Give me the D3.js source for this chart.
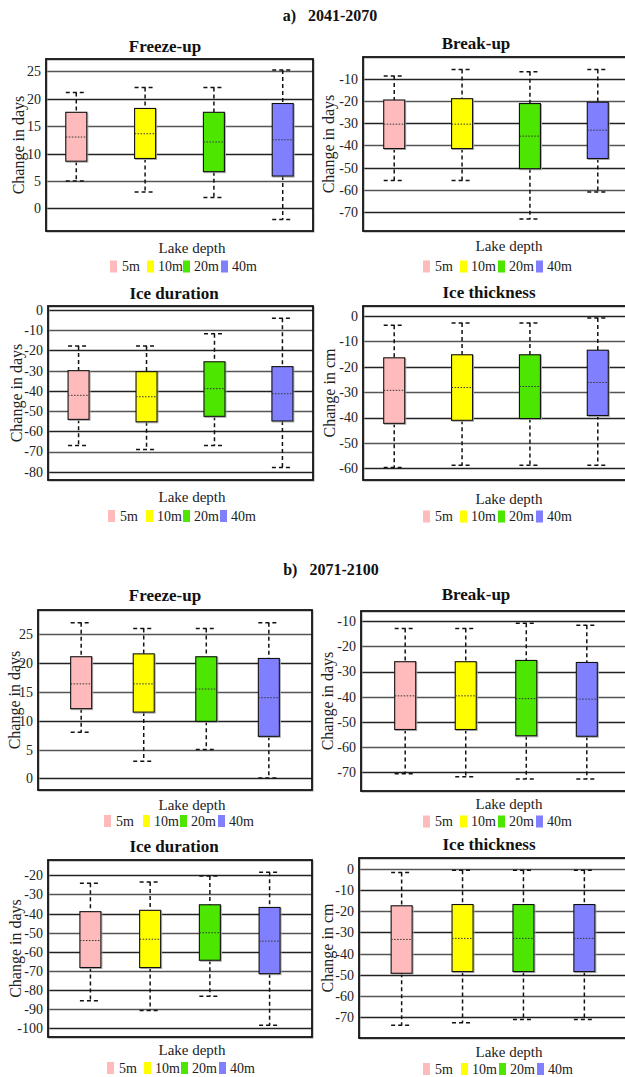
<!DOCTYPE html>
<html>
<head>
<meta charset="utf-8">
<script src="https://cdn.jsdelivr.net/npm/d3@7"></script>
<style>
  html, body { margin: 0; padding: 0; background: #fff; }
  svg { display: block; }
</style>
</head>
<body>
<svg id="chart" width="625" height="1077"></svg>
<script>
// ---------- DATA ----------
const depths = ["5m", "10m", "20m", "40m"];
const periods = ["a)\u00a0\u00a0\u00a02041-2070", "b)\u00a0\u00a0\u00a02071-2100"];
const variables = ["Freeze-up", "Break-up", "Ice duration", "Ice thickness"];
const yLabels = ["Change in days", "Change in days", "Change in days", "Change in cm"];
// each row: [lower whisker, Q1, median, Q3, upper whisker] for 5m,10m,20m,40m
const a_freezeUp = [[5, 8.6, 13, 17.5, 21.1], [3, 9.1, 13.6, 18.2, 22], [2, 6.7, 12.1, 17.5, 22], [-2, 5.9, 12.5, 19.1, 25.2]];
const a_breakUp = [[-55.8, -41.4, -30.4, -19.5, -8.7], [-55.8, -41.4, -30.4, -18.9, -5.7], [-73.2, -50.5, -35.8, -21.1, -6.7], [-61, -45.9, -33.1, -20.5, -5.7]];
const a_iceDuration = [[-67, -54.1, -42.2, -30, -17.8], [-69, -55.3, -42.9, -30.5, -17.8], [-67, -52.6, -38.9, -25.6, -11.7], [-77.9, -54.9, -41.4, -28, -4]];
const a_iceThickness = [[-59.7, -42.3, -29.3, -16.5, -3.7], [-58.8, -41.1, -28.2, -15.3, -2.8], [-58.8, -40.4, -27.8, -15.3, -2.8], [-58.8, -39.2, -26.2, -13.5, -0.8]];
const b_freezeUp = [[8, 12.1, 16.4, 21.1, 27], [3, 11.5, 16.4, 21.6, 26], [5, 9.9, 15.5, 21.1, 26], [0.1, 7.3, 14, 20.8, 27]];
const b_breakUp = [[-70.7, -53.1, -39.7, -26.1, -12.9], [-71.9, -53.1, -39.7, -26.1, -12.9], [-72.8, -55.6, -40.8, -25.6, -10.8], [-72.8, -55.8, -41, -26.4, -11.6]];
const b_iceDuration = [[-85.5, -68.2, -54.1, -39, -24.2], [-90.6, -68.2, -53.4, -38.3, -23.5], [-83.2, -64.4, -50, -35.4, -20.3], [-98.4, -71.4, -54.4, -36.8, -18.4]];
const b_iceThickness = [[-73.9, -49.3, -33.3, -17.4, -1.7], [-72.7, -48.5, -32.8, -16.8, -0.6], [-71.1, -48.5, -32.8, -16.8, -0.6], [-71.1, -48.5, -32.8, -16.8, -0.6]];
// y tick values for each panel
const ticksFreezeUpA = [0, 5, 10, 15, 20, 25];
const ticksBreakUpA = [-70, -60, -50, -40, -30, -20, -10];
const ticksDurationA = [-80, -70, -60, -50, -40, -30, -20, -10, 0];
const ticksThicknessA = [-60, -50, -40, -30, -20, -10, 0];
const ticksFreezeUpB = [0, 5, 10, 15, 20, 25];
const ticksBreakUpB = [-70, -60, -50, -40, -30, -20, -10];
const ticksDurationB = [-100, -90, -80, -70, -60, -50, -40, -30, -20];
const ticksThicknessB = [-70, -60, -50, -40, -30, -20, -10, 0];

// ---------- STYLE ----------
const fills = ["#ffbbbb", "#ffff00", "#4de600", "#8080ff"];
const FONT = "'Liberation Serif', monospace";

// ---------- LAYOUT ----------
const panels = [
  { v: 0, data: a_freezeUp, ticks: ticksFreezeUpA, dom: [-4.1, 27.2], x: [46, 313], y: [59, 231], pad: 0.44, tx: 165, ty: 46, ylx: 18, lx: 192, ly: 248, legY: 266.5, legX: [110, 147, 183, 221] },
  { v: 1, data: a_breakUp, ticks: ticksBreakUpA, dom: [-78.6, -0.1], x: [363, 629], y: [57, 231], pad: 0.46, tx: 476, ty: 43, ylx: 328, lx: 509, ly: 246, legY: 266.5, legX: [423, 460, 498, 536] },
  { v: 2, data: a_iceDuration, ticks: ticksDurationA, dom: [-84.1, 2], x: [48, 313], y: [306, 480], pad: 0.45, tx: 174, ty: 293, ylx: 16, lx: 192, ly: 497, legY: 516, legX: [108, 146, 183, 220] },
  { v: 3, data: a_iceThickness, ticks: ticksThicknessA, dom: [-64.6, 3.9], x: [363, 629], y: [306, 480], pad: 0.46, tx: 489, ty: 292, ylx: 329, lx: 509, ly: 499, legY: 516.5, legX: [423, 460, 498, 536] },
  { v: 0, data: b_freezeUp, ticks: ticksFreezeUpB, dom: [-2, 29.2], x: [38, 312], y: [610, 790], pad: 0.69, tx: 165, ty: 595, ylx: 14, lx: 192, ly: 805, legY: 821, legX: [104, 143, 180, 218] },
  { v: 1, data: b_breakUp, ticks: ticksBreakUpB, dom: [-77.6, -5.9], x: [361, 631], y: [611, 791], pad: 0.73, tx: 476, ty: 594, ylx: 327, lx: 509, ly: 804, legY: 821.5, legX: [423, 460, 498, 536] },
  { v: 2, data: b_iceDuration, ticks: ticksDurationB, dom: [-104.5, -12], x: [48, 312], y: [860, 1037], pad: 0.71, tx: 174, ty: 846, ylx: 15, lx: 192, ly: 1050, legY: 1068, legX: [107, 144, 181, 219] },
  { v: 3, data: b_iceThickness, ticks: ticksThicknessB, dom: [-79.9, 5.2], x: [359, 627], y: [858, 1038], pad: 0.70, tx: 489, ty: 844, ylx: 327, lx: 509, ly: 1052, legY: 1069, legX: [423, 461, 499, 537] }
];

const svg = d3.select("#chart").attr("font-family", FONT).style("font-family", FONT);

function label(sel, x, y, txt, size, opts = {}) {
  const t = sel.append("text").attr("x", x).attr("y", y).attr("dy", "0.35em")
    .attr("font-family", FONT).style("font-family", FONT)
    .attr("font-size", size).attr("fill", opts.fill || "#222")
    .attr("text-anchor", opts.anchor || "middle");
  if (opts.bold) t.attr("font-weight", "bold");
  if (opts.transform) t.attr("transform", opts.transform).attr("x", 0).attr("y", 0);
  t.text(txt);
  return t;
}

// period titles
label(svg, 330, 15, periods[0], 16, { bold: true, fill: "#111" });
label(svg, 331, 569, periods[1], 16, { bold: true, fill: "#111" });

panels.forEach(p => {
  const g = svg.append("g");
  const y = d3.scaleLinear().domain(p.dom).range([p.y[1], p.y[0]]);
  const x = d3.scalePoint().domain(depths).range(p.x).padding(p.pad);
  const bw = 21;

  // gridlines
  g.append("g").selectAll("line").data(p.ticks).join("line")
    .attr("x1", p.x[0]).attr("x2", p.x[1])
    .attr("y1", d => Math.round(y(d)) + 0.5).attr("y2", d => Math.round(y(d)) + 0.5)
    .attr("stroke", (d, i) => i % 2 === 0 ? "#222" : "#555").attr("stroke-width", 1.3);

  // axis labels
  const ax = g.append("g").attr("transform", `translate(${p.x[0] - 3},0)`)
    .call(d3.axisLeft(y).tickValues(p.ticks).tickSize(0).tickPadding(2).tickFormat(d => String(d)));
  ax.attr("font-family", FONT).attr("font-size", 14);
  ax.select(".domain").remove();
  ax.selectAll("text").attr("font-family", FONT).style("font-family", FONT).attr("font-size", 14).attr("fill", "#222");

  // frame
  g.append("rect").attr("x", p.x[0] + 1).attr("y", p.y[0] + 1)
    .attr("width", p.x[1] - p.x[0]).attr("height", p.y[1] - p.y[0])
    .attr("fill", "none").attr("stroke", "#999").attr("stroke-width", 1);
  g.append("rect").attr("x", p.x[0]).attr("y", p.y[0])
    .attr("width", p.x[1] - p.x[0]).attr("height", p.y[1] - p.y[0])
    .attr("fill", "none").attr("stroke", "#111").attr("stroke-width", 1.8);

  // boxes
  const bg = g.append("g").selectAll("g").data(p.data).join("g");
  bg.each(function (d, i) {
    const s = d3.select(this);
    const cx = x(depths[i]);
    s.append("line").attr("x1", cx).attr("x2", cx).attr("y1", y(d[4])).attr("y2", y(d[3]))
      .attr("stroke", "#111").attr("stroke-width", 1.5).attr("stroke-dasharray", "4,3");
    s.append("line").attr("x1", cx).attr("x2", cx).attr("y1", y(d[1])).attr("y2", y(d[0]))
      .attr("stroke", "#111").attr("stroke-width", 1.5).attr("stroke-dasharray", "4,3");
    [d[0], d[4]].forEach(v => {
      s.append("line").attr("x1", cx - bw / 2).attr("x2", cx + bw / 2).attr("y1", y(v)).attr("y2", y(v))
        .attr("stroke", "#111").attr("stroke-width", 1.5).attr("stroke-dasharray", "4,3");
    });
    s.append("rect").attr("x", cx - bw / 2 + 1).attr("y", y(d[3]) + 1)
      .attr("width", bw).attr("height", y(d[1]) - y(d[3]))
      .attr("fill", "none").attr("stroke", "#aaa").attr("stroke-width", 1);
    s.append("rect").attr("x", cx - bw / 2).attr("y", y(d[3]))
      .attr("width", bw).attr("height", y(d[1]) - y(d[3]))
      .attr("fill", fills[i]).attr("stroke", "#111").attr("stroke-width", 1.1);
    s.append("line").attr("x1", cx - bw / 2).attr("x2", cx + bw / 2).attr("y1", y(d[2])).attr("y2", y(d[2]))
      .attr("stroke", "#333").attr("stroke-width", 1).attr("stroke-dasharray", "1.5,1.5");
  });

  // title, axis titles
  label(g, p.tx, p.ty, variables[p.v], 17, { bold: true, fill: "#111" });
  label(g, 0, 0, yLabels[p.v], 16, { transform: `translate(${p.ylx},${(p.y[0] + p.y[1]) / 2}) rotate(-90)` });
  label(g, p.lx, p.ly, "Lake depth", 15);

  // legend
  const lg = g.append("g").selectAll("g").data(depths).join("g")
    .attr("transform", (d, i) => `translate(${p.legX[i]},${p.legY})`);
  lg.append("rect").attr("x", 0).attr("y", -6).attr("width", 7).attr("height", 12)
    .attr("fill", (d, i) => fills[i]);
  lg.each(function (d, i) {
    label(d3.select(this), i === 0 ? 12 : 11, 0, d, 14, { anchor: "start" });
  });
});
</script>
</body>
</html>
